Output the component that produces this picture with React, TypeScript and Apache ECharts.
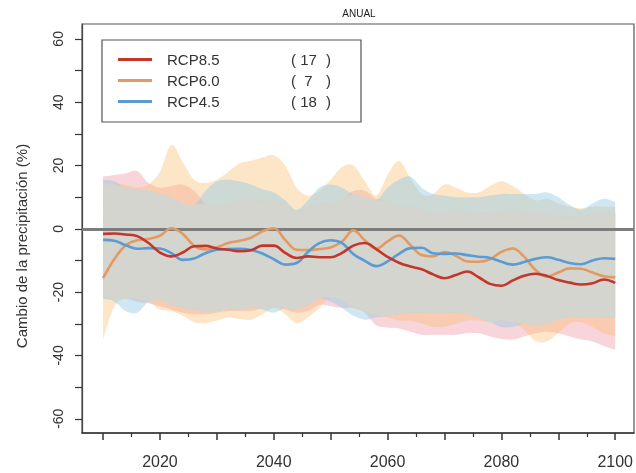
import React, { useEffect, useRef } from 'react';
import * as echarts from 'echarts';

const YEARS = [2010, 2012, 2014, 2016, 2018, 2020, 2022, 2024, 2026, 2028,
  2030, 2032, 2034, 2036, 2038, 2040, 2042, 2044, 2046, 2048,
  2050, 2052, 2054, 2056, 2058, 2060, 2062, 2064, 2066, 2068,
  2070, 2072, 2074, 2076, 2078, 2080, 2082, 2084, 2086, 2088,
  2090, 2092, 2094, 2096, 2098, 2100];

const RCP85 = [-1.6, -1.5, -1.8, -2.3, -4.5, -7.5, -8.7, -7.5, -5.5, -5.4,
  -6.2, -6.6, -7.1, -6.8, -5.3, -5.3, -7.6, -9.2, -8.7, -9.0,
  -9.0, -7.6, -5.3, -4.5, -6.4, -8.9, -10.7, -11.9, -12.8, -14.4,
  -15.6, -14.6, -13.5, -15.3, -17.4, -18.0, -16.3, -14.8, -14.2, -14.9,
  -16.2, -17.0, -17.6, -17.2, -16.0, -17.1];

const RCP60 = [-15.6, -9.5, -5.2, -3.6, -3.2, -2.2, 0.2, -1.6, -5.3, -6.5,
  -5.8, -4.5, -3.8, -2.8, -0.8, 0.2, -3.5, -6.6, -6.7, -6.4,
  -5.9, -4.0, -0.5, -3.6, -6.3, -4.0, -2.1, -5.1, -8.3, -8.7,
  -7.3, -8.5, -10.3, -10.4, -9.6, -7.3, -6.2, -8.8, -13.0, -15.1,
  -13.8, -12.5, -12.6, -13.8, -15.0, -15.3];

const RCP45 = [-3.5, -3.8, -5.2, -6.3, -6.1, -6.2, -7.7, -9.8, -9.4, -7.7,
  -6.6, -6.4, -6.3, -6.7, -7.8, -9.6, -11.3, -10.8, -7.3, -4.5,
  -3.6, -4.5, -8.0, -10.1, -11.8, -10.3, -7.9, -6.1, -6.0, -7.7,
  -7.9, -7.8, -8.3, -8.8, -9.2, -10.4, -11.3, -10.5, -9.5, -9.0,
  -9.8, -10.8, -11.2, -10.0, -9.3, -9.5];

const RCP85_UP = [16.5, 17, 17.5, 18.3, 14.5, 13, 13.5, 14, 12, 8,
  7, 8, 9, 9, 9, 9, 8, 5.5, 7, 8,
  8, 9, 12, 12, 9.5, 9, 7, 7, 6, 5,
  5, 6, 5.5, 5, 5, 5.5, 6, 5.5, 5, 4.5,
  4, 4, 4, 4.5, 5, 5];
const RCP60_UP = [14, 14, 14, 13, 14, 18, 26.5, 21, 15.5, 14.5,
  15.5, 18, 20.7, 21.5, 22.5, 23.2, 20, 13, 10.5, 12,
  15.5, 19.5, 20, 15, 10.5, 17, 21.5, 16, 11, 11,
  14, 13, 11.5, 11.5, 13.5, 15, 13.5, 11, 9, 9.5,
  8, 7, 6.5, 7, 7, 7];
const RCP45_UP = [15.5, 15, 13, 12.5, 12, 11, 10, 8, 7.5, 12,
  15, 15.5, 15, 14, 12.5, 11.5, 9, 6, 9, 13,
  14, 13, 11, 10, 9, 13, 15.5, 16.5, 13, 11,
  10.5, 10, 10, 10, 10.5, 11, 11, 11, 11, 11.5,
  10, 7.5, 6, 8, 9.5, 8.5];

const RCP85_LO = [-22, -22, -22, -23, -23.5, -24.5, -25.5, -26.5, -27, -27,
  -26.5, -26, -26, -26, -25, -24.5, -25.5, -26.5, -26, -24,
  -24.5, -25, -25, -26.5, -30.5, -31.2, -31.5, -32.5, -33.5, -33.5,
  -33.5, -33.5, -33, -33, -34, -34.8, -35, -34, -33, -32.5,
  -33, -34, -35, -35.6, -37, -38.2];
const RCP60_LO = [-35, -24.5, -22, -22, -23, -25.5, -26, -27.5, -29.5, -29.8,
  -29, -28, -28.5, -28.7, -27, -25, -27, -29.8, -28, -25,
  -21.5, -22.5, -25, -26, -27.5, -28, -29, -29, -30, -31,
  -31, -30, -29, -29, -29.5, -29, -29.5, -32, -35.5, -35.6,
  -33, -30, -29.5, -31, -33, -34];
const RCP45_LO = [-22, -23, -26, -26.5, -23, -22.5, -24, -25, -25.5, -26,
  -26, -25.5, -25.5, -25, -25.5, -26.5, -25, -25.5, -24, -22,
  -23, -25, -27.5, -28.7, -28, -27.5, -27, -26.5, -26.5, -26.5,
  -26.5, -26.5, -27, -28, -29.5, -31, -31, -30, -30.3, -30,
  -28.5, -28, -28, -27.7, -28, -28.2];

const SCENARIOS = ['RCP8.5', 'RCP6.0', 'RCP4.5'];
const MODEL_COUNTS = ['17', '7', '18'];

const X_TICKS_MAJOR = [2010, 2020, 2030, 2040, 2050, 2060, 2070, 2080, 2090, 2100];
const X_TICKS_MINOR = [2015, 2025, 2035, 2045, 2055, 2065, 2075, 2085, 2095];
const X_TICK_LABELS = [2020, 2040, 2060, 2080, 2100];
const Y_TICKS = [-60, -50, -40, -30, -20, -10, 0, 10, 20, 30, 40, 50, 60];
const Y_TICK_LABELS = [-60, -40, -20, 0, 20, 40, 60];

const FONT = '"Liberation Sans", Arial, Helvetica, sans-serif';
const SMOOTH = 0.4;

function spline(pts: number[][]): string {
  let d = '';
  for (let i = 0; i < pts.length - 1; i++) {
    const p0 = pts[i - 1] || pts[i];
    const p1 = pts[i];
    const p2 = pts[i + 1];
    const p3 = pts[i + 2] || p2;
    const c1x = p1[0] + (p2[0] - p0[0]) / 6;
    const c1y = p1[1] + (p2[1] - p0[1]) / 6;
    const c2x = p2[0] - (p3[0] - p1[0]) / 6;
    const c2y = p2[1] - (p3[1] - p1[1]) / 6;
    d += ` C${c1x.toFixed(2)},${c1y.toFixed(2)} ${c2x.toFixed(2)},${c2y.toFixed(2)} ${p2[0].toFixed(2)},${p2[1].toFixed(2)}`;
  }
  return d;
}

export default function App() {
  const ref = useRef<HTMLDivElement>(null);

  useEffect(() => {
    const chart = echarts.init(ref.current!, null, { renderer: 'svg' });
    const pair = (vals: number[]) => YEARS.map((y, i) => [y, vals[i]]);

    const bandSeries = (name: string, lo: number[], up: number[], fill: string, z: number, extra: any = {}) => ({
      type: 'custom', name, silent: true, z, clip: true,
      data: YEARS.map((y, i) => [y, lo[i], up[i]]),
      encode: { x: 0, y: [1, 2] },
      renderItem: (params: any, api: any) => {
        if (params.dataIndex !== 0) return null;
        const upPts = YEARS.map((y, i) => api.coord([y, up[i]]));
        const loPts = YEARS.map((y, i) => api.coord([y, lo[i]])).reverse();
        const d = `M${upPts[0][0]},${upPts[0][1]}` + spline(upPts) +
          ` L${loPts[0][0]},${loPts[0][1]}` + spline(loPts) + ' Z';
        return { type: 'path', shape: { pathData: d }, style: { fill, stroke: 'none' } };
      },
      ...extra,
    });

    const interLo = YEARS.map((_, i) => Math.max(RCP85_LO[i], RCP60_LO[i], RCP45_LO[i]));
    const interUp = YEARS.map((_, i) => Math.min(RCP85_UP[i], RCP60_UP[i], RCP45_UP[i]));

    const lineSeries = (name: string, vals: number[], color: string, z: number) => ({
      type: 'line', name, data: pair(vals), smooth: SMOOTH, symbol: 'none', showSymbol: false,
      lineStyle: { color, width: 2.6 }, itemStyle: { color }, z,
    });

    const fmt = (v: number) => String(v);

    chart.setOption({
      animation: false,
      grid: {
        left: 82, right: 2, top: 24, bottom: 40, show: true,
        borderColor: '#555', borderWidth: 1.2, backgroundColor: 'transparent',
      },
      xAxis: [
        {
          type: 'value', min: 2006.3, max: 2103.3, position: 'bottom',
          axisLine: { show: true, onZero: false, lineStyle: { color: '#333', width: 1.5 } },
          axisTick: { show: true, length: 7, customValues: X_TICKS_MAJOR, lineStyle: { color: '#333', width: 1.5 } },
          axisLabel: { customValues: X_TICK_LABELS, formatter: fmt, fontSize: 16, fontFamily: FONT, color: '#333', margin: 20 },
          splitLine: { show: false },
        },
        {
          type: 'value', min: 2006.3, max: 2103.3, position: 'bottom',
          axisLine: { show: false, onZero: false },
          axisTick: { show: true, length: 4, customValues: X_TICKS_MINOR, lineStyle: { color: '#333', width: 1.2 } },
          axisLabel: { show: false },
          splitLine: { show: false },
        },
      ],
      yAxis: {
        type: 'value', min: -64.5, max: 64.7,
        axisLine: { show: true, onZero: false, lineStyle: { color: '#444', width: 1.2 } },
        axisTick: { show: true, length: 7, customValues: Y_TICKS, lineStyle: { color: '#333', width: 1.2 } },
        axisLabel: { customValues: Y_TICK_LABELS, formatter: fmt, rotate: 90, fontSize: 14, fontFamily: FONT, color: '#333', margin: 17 },
        splitLine: { show: false },
      },
      legend: {
        data: SCENARIOS,
        orient: 'vertical', left: 102, top: 40,
        padding: [12, 30, 13, 16],
        borderColor: '#555', borderWidth: 1.2, backgroundColor: '#fff',
        itemWidth: 34, itemHeight: 3, icon: 'rect', itemGap: 6,
        textStyle: {
          fontFamily: FONT, fontSize: 15, color: '#333',
          rich: {
            a: { fontFamily: FONT, fontSize: 15, color: '#333', width: 124, padding: [0, 0, 0, 10], lineHeight: 17 },
            p: { fontFamily: FONT, fontSize: 15, color: '#333', lineHeight: 17 },
            n: { fontFamily: FONT, fontSize: 15, color: '#333', width: 25, align: 'right', lineHeight: 17 },
            q: { fontFamily: FONT, fontSize: 15, color: '#333', padding: [0, 0, 0, 5], lineHeight: 17 },
          },
        },
        formatter: (name: string) => {
          const i = SCENARIOS.indexOf(name);
          return `{a|${name}}{p|(}{n|${MODEL_COUNTS[i]}}{q|)}`;
        },
      },
      graphic: [
        {
          type: 'text', x: 359, y: 13,
          style: { text: 'ANUAL', fontSize: 10, fontFamily: FONT, fill: '#222', textAlign: 'center', textVerticalAlign: 'middle' },
        },
        {
          type: 'text', x: 21, y: 246, rotation: Math.PI / 2,
          style: { text: 'Cambio de la precipitación (%)', fontSize: 15, fontFamily: FONT, fill: '#333', textAlign: 'center', textVerticalAlign: 'middle' },
        },
      ],
      series: [
        bandSeries('band85', RCP85_LO, RCP85_UP, 'rgba(239,161,177,0.46)', 1),
        bandSeries('band60', RCP60_LO, RCP60_UP, 'rgba(251,193,121,0.42)', 1),
        bandSeries('band45', RCP45_LO, RCP45_UP, 'rgba(155,205,227,0.48)', 1),
        bandSeries('bandAll', interLo, interUp, '#d4d5cf', 2, {
          markLine: {
            silent: true, symbol: ['none', 'none'], label: { show: false },
            lineStyle: { color: '#7c7c7c', width: 3, type: 'solid' },
            data: [{ yAxis: 0 }],
          },
        }),
        lineSeries('RCP6.0', RCP60, '#e39a62', 10),
        lineSeries('RCP4.5', RCP45, '#5b9bd3', 11),
        lineSeries('RCP8.5', RCP85, '#c3362b', 12),
      ],
    });

    return () => chart.dispose();
  }, []);

  return <div ref={ref} style={{ position: 'fixed', left: 0, top: 0, width: 636, height: 473 }} />;
}
